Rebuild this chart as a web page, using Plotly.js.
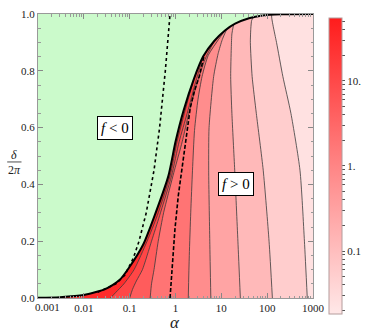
<!DOCTYPE html>
<html>
<head>
<meta charset="utf-8">
<script src="https://cdn.plot.ly/plotly-3.0.1.min.js"></script>
<style>
  html, body { margin: 0; padding: 0; background: #fff; }
  #plot { width: 374px; height: 333px; }
</style>
</head>
<body>
<div id="plot"></div>
<script>
// boundary f = 0 (thick black curve), alpha vs delta/2pi
const boundaryA = [0.001, 0.003, 0.01, 0.03, 0.06, 0.1, 0.2, 0.35, 0.7, 1.0, 1.5, 2.5, 4, 7, 12, 20, 40, 80, 200, 1000];
const boundaryD = [0.001, 0.003, 0.0105, 0.032, 0.063, 0.11, 0.19, 0.29, 0.43, 0.55, 0.66, 0.77, 0.85, 0.905, 0.942, 0.966, 0.985, 0.995, 0.999, 1.0];

// contour lines of f > 0, read bottom -> top, each ends on the boundary
const contourA = [
  [0.038, 0.05, 0.075, 0.125, 0.24, 0.4, 0.76, 1.08, 1.62, 2.5],
  [0.1, 0.115, 0.14, 0.19, 0.3, 0.45, 0.82, 1.2, 1.8, 2.75, 4],
  [0.28, 0.3, 0.34, 0.42, 0.55, 0.68, 0.95, 1.4, 1.95, 3.0, 4.4, 7],
  [1.9, 2.0, 2.15, 2.35, 2.6, 3.1, 3.8, 5.2, 12],
  [5.9, 5.6, 5.3, 5.4, 6.8, 8.5, 10.5, 13],
  [26, 23, 19.6, 17, 16, 16.5, 17, 18.5],
  [130, 110, 82, 58, 47, 43, 44, 46, 50],
  [750, 650, 520, 330, 220, 160, 136, 126, 125]
];
const contourD = [
  [0, 0.02, 0.05, 0.1, 0.2, 0.29, 0.43, 0.55, 0.66, 0.77],
  [0, 0.03, 0.06, 0.1, 0.2, 0.29, 0.43, 0.55, 0.65, 0.76, 0.85],
  [0, 0.05, 0.1, 0.2, 0.3, 0.36, 0.45, 0.55, 0.65, 0.76, 0.84, 0.905],
  [0, 0.15, 0.3, 0.45, 0.59, 0.7, 0.78, 0.855, 0.942],
  [0, 0.2, 0.45, 0.6, 0.78, 0.86, 0.91, 0.945],
  [0, 0.2, 0.45, 0.65, 0.78, 0.88, 0.93, 0.962],
  [0, 0.2, 0.45, 0.65, 0.78, 0.9, 0.95, 0.978, 0.988],
  [0, 0.2, 0.45, 0.65, 0.78, 0.9, 0.955, 0.985, 0.996]
];
// fill colours: first one is between boundary and first contour
const regionColors = ["#ff2b2b", "#ff4646", "#ff5c5c", "#ff7474", "#ff8d8d", "#ffa4a4", "#ffb9b9", "#ffcdcd", "#ffe1e1"];

const dottedA = [0.02, 0.05, 0.078, 0.12, 0.16, 0.23, 0.34, 0.45, 0.6, 0.76];
const dottedD = [0.02, 0.05, 0.08, 0.14, 0.2, 0.3, 0.45, 0.6, 0.8, 1.0];
const dashedA = [0.76, 0.85, 0.97, 1.15, 1.4, 1.8, 2.1, 2.6, 3.3, 4.2];
const dashedD = [0, 0.12, 0.24, 0.36, 0.47, 0.59, 0.67, 0.73, 0.78, 0.853];

const xTickVals = [0.001, 0.01, 0.1, 1, 10, 100, 1000];
const xTickText = ["", "0.01", "0.1", "1", "10", "100", "1000"];
const cbLabels = {"0.1": "0.1", "1": "1.", "10": "10."};
const cbRange = [-1.74, 1.74];

const serif = "Liberation Serif, Times New Roman, serif";

// region right of a contour: contour, then along the boundary, then down the right edge
function regionPoly(ca, cd){
  const end = ca[ca.length - 1];
  const xs = ca.slice(), ys = cd.slice();
  boundaryA.forEach((a, i) => { if (a > end){ xs.push(a); ys.push(boundaryD[i]); } });
  xs.push(1000); ys.push(0);
  return {xs, ys};
}

const data = [];

// everything under the boundary
data.push({
  type: "scatter", mode: "lines", fill: "toself",
  x: [0.001].concat(boundaryA, [1000]),
  y: [0].concat(boundaryD, [0]),
  fillcolor: regionColors[0], line: {width: 0}, hoverinfo: "skip"
});
contourA.forEach((ca, k) => {
  const p = regionPoly(ca, contourD[k]);
  data.push({
    type: "scatter", mode: "lines", fill: "toself", x: p.xs, y: p.ys,
    fillcolor: regionColors[k + 1], line: {width: 0}, hoverinfo: "skip"
  });
});
contourA.forEach((ca, k) => {
  data.push({
    type: "scatter", mode: "lines", x: ca, y: contourD[k],
    line: {width: 0.8, color: "#3a3a3a", shape: "spline", smoothing: 0.6}, hoverinfo: "skip"
  });
});
data.push({type: "scatter", mode: "lines", x: dottedA, y: dottedD,
  line: {width: 1.6, color: "#000", dash: "dot"}, hoverinfo: "skip"});
data.push({type: "scatter", mode: "lines", x: dashedA, y: dashedD,
  line: {width: 1.6, color: "#000", dash: "4px,2px"}, hoverinfo: "skip"});
data.push({type: "scatter", mode: "lines", x: boundaryA, y: boundaryD,
  line: {width: 2, color: "#000", shape: "spline", smoothing: 0.6}, hoverinfo: "skip"});

// colour bar carrier
const cbVals = [], cbText = [];
[0.01, 0.1, 1, 10].forEach(dec => {
  [1, 2, 3, 4, 5, 6, 7, 8, 9].forEach(m => {
    const v = Math.log10(dec * m);
    if (v >= cbRange[0] && v <= cbRange[1]){
      cbVals.push(v);
      cbText.push(m === 1 && cbLabels[String(dec)] ? cbLabels[String(dec)] : "");
    }
  });
});
data.push({
  type: "scatter", mode: "markers", x: [1], y: [0.5], hoverinfo: "skip",
  marker: {
    size: 1, opacity: 0, color: [0],
    colorscale: [[0, "#ffe8e8"], [0.5, "#ff8585"], [1, "#ff1c1c"]],
    cmin: cbRange[0], cmax: cbRange[1], showscale: true,
    colorbar: {
      x: 1.059, xanchor: "left", y: 0.986, yanchor: "top",
      thickness: 13, thicknessmode: "pixels", len: 296, lenmode: "pixels",
      outlinecolor: "#b49c9c", outlinewidth: 1, xpad: 0, ypad: 0,
      tickmode: "array", tickvals: cbVals, ticktext: cbText,
      ticks: "outside", ticklen: 3, tickcolor: "#555",
      tickfont: {family: serif, size: 11, color: "#222"}
    }
  }
});

const layout = {
  width: 374, height: 333,
  margin: {l: 38, r: 50, t: 14, b: 35},
  paper_bgcolor: "#fff", plot_bgcolor: "#cbfacb",
  showlegend: false,
  font: {family: serif, size: 11, color: "#222"},
  xaxis: {
    type: "log", range: [-3, 3], tickmode: "array", tickvals: xTickVals, ticktext: xTickText,
    ticks: "inside", ticklen: 5, tickcolor: "#888", showline: true, linecolor: "#999",
    mirror: "ticks", showgrid: false, zeroline: false,
    tickfont: {family: serif, size: 11, color: "#222"},
    minor: {dtick: "D1", ticks: "inside", ticklen: 2.5, tickcolor: "#999", showgrid: false}
  },
  yaxis: {
    range: [0, 1], dtick: 0.2, tickformat: ".1f",
    ticks: "inside", ticklen: 5, tickcolor: "#888", showline: true, linecolor: "#999",
    mirror: "ticks", showgrid: false, zeroline: false,
    tickfont: {family: serif, size: 11, color: "#222"},
    minor: {dtick: 0.05, ticks: "inside", ticklen: 2.5, tickcolor: "#999", showgrid: false}
  },
  shapes: [
    {type: "line", xref: "paper", yref: "paper", x0: -0.112, x1: -0.06, y0: 0.479, y1: 0.479,
     line: {color: "#222", width: 0.8}}
  ],
  annotations: [
    {xref: "x", yref: "y", x: Math.log10(0.048), y: 0.6, xanchor: "center", text: "<i>f</i> &lt; 0", showarrow: false,
     font: {family: serif, size: 15, color: "#000"}, bgcolor: "#fff", bordercolor: "#000", borderwidth: 1, borderpad: 3},
    {xref: "x", yref: "y", x: Math.log10(20.7), y: 0.4, xanchor: "center", text: "<i>f</i> &gt; 0", showarrow: false,
     font: {family: serif, size: 15, color: "#000"}, bgcolor: "#fff", bordercolor: "#000", borderwidth: 1, borderpad: 3},
    {xref: "paper", yref: "paper", x: 0.497, y: -0.085, xanchor: "center", yanchor: "middle", text: "<i>α</i>", showarrow: false,
     font: {family: serif, size: 17, color: "#222"}},
    {xref: "paper", yref: "paper", x: -0.086, y: 0.505, xanchor: "center", yanchor: "middle", text: "<i>δ</i>", showarrow: false,
     font: {family: serif, size: 12, color: "#222"}},
    {xref: "paper", yref: "paper", x: -0.086, y: 0.45, xanchor: "center", yanchor: "middle", text: "2<i>π</i>", showarrow: false,
     font: {family: serif, size: 12, color: "#222"}},
    {xref: "paper", yref: "paper", x: 0.035, y: 0, xanchor: "center", yanchor: "top", yshift: -1, text: "0.001", showarrow: false,
     font: {family: serif, size: 11, color: "#222"}}
  ]
};

Plotly.newPlot("plot", data, layout, {staticPlot: true});
</script>
</body>
</html>
